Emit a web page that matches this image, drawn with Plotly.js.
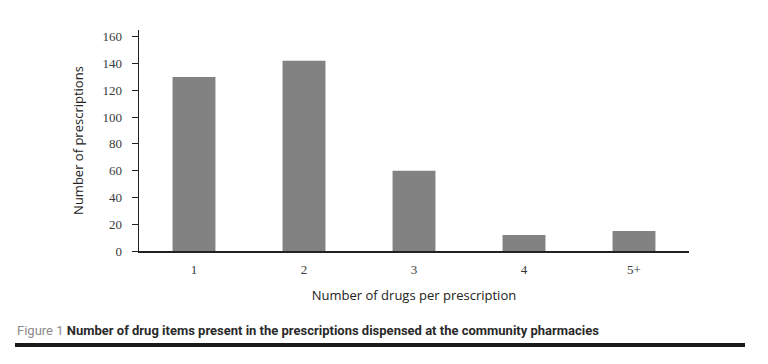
<!DOCTYPE html>
<html>
<head>
<meta charset="utf-8">
<script src="https://cdn.plot.ly/plotly-3.0.1.min.js"></script>
<style>html,body{margin:0;padding:0;background:#fff;}</style>
</head>
<body>
<div id="chart" style="width:768px;height:364px;"></div>
<script>
const categories = ["1", "2", "3", "4", "5+"];
const prescriptions = [130, 142, 60, 12, 15];
const yTickValues = [0, 20, 40, 60, 80, 100, 120, 140, 160];

const W = 768, H = 364;
const L = 139, R = 79, T = 30, B = 113;
const pw = W - L - R, ph = H - T - B;
const px = x => (x - L) / pw;
const py = y => (H - B - y) / ph;

const trace = {
  type: "bar",
  x: categories,
  y: prescriptions,
  marker: {color: "#828282"},
  hoverinfo: "skip"
};

const layout = {
  width: W, height: H, autosize: false,
  margin: {l: L, r: R, t: T, b: B, pad: 0},
  paper_bgcolor: "#fff", plot_bgcolor: "#fff",
  showlegend: false,
  bargap: 0.61,
  xaxis: {
    type: "category",
    showline: true, linecolor: "#222", linewidth: 1.5,
    ticks: "outside", tickcolor: "rgba(0,0,0,0)", ticklen: 6,
    showgrid: false, zeroline: false,
    tickfont: {family: "Liberation Serif, serif", size: 13, color: "#3a3a3a"},
    title: {text: "Number of drugs per prescription", standoff: 15,
            font: {family: "Open Sans, sans-serif", size: 13, color: "#222"}}
  },
  yaxis: {
    range: [0, 165],
    tickvals: yTickValues,
    showline: true, linecolor: "#222", linewidth: 1.5,
    ticks: "outside", ticklen: 6, tickcolor: "#222", tickwidth: 1,
    ticklabelstandoff: 7,
    showgrid: false, zeroline: false,
    tickfont: {family: "Liberation Serif, serif", size: 13, color: "#3a3a3a"},
    title: {text: "Number of prescriptions", standoff: 16,
            font: {family: "Open Sans, sans-serif", size: 13, color: "#222"}}
  },
  annotations: [{
    xref: "paper", yref: "paper",
    x: px(15), y: py(330), xanchor: "left", yanchor: "middle",
    showarrow: false,
    text: '<span style="color:#8a8a8a">Figure 1</span> <b>Number of drug items present in the prescriptions dispensed at the community pharmacies</b>',
    font: {family: "Roboto, sans-serif", size: 13, color: "#2a2a2a"}
  }],
  shapes: [{
    type: "line", xref: "paper", yref: "paper",
    x0: px(15), x1: px(745), y0: py(345), y1: py(345),
    line: {color: "#1a1a1a", width: 4}
  }]
};

Plotly.newPlot("chart", [trace], layout, {displayModeBar: false, staticPlot: true});
</script>
</body>
</html>
